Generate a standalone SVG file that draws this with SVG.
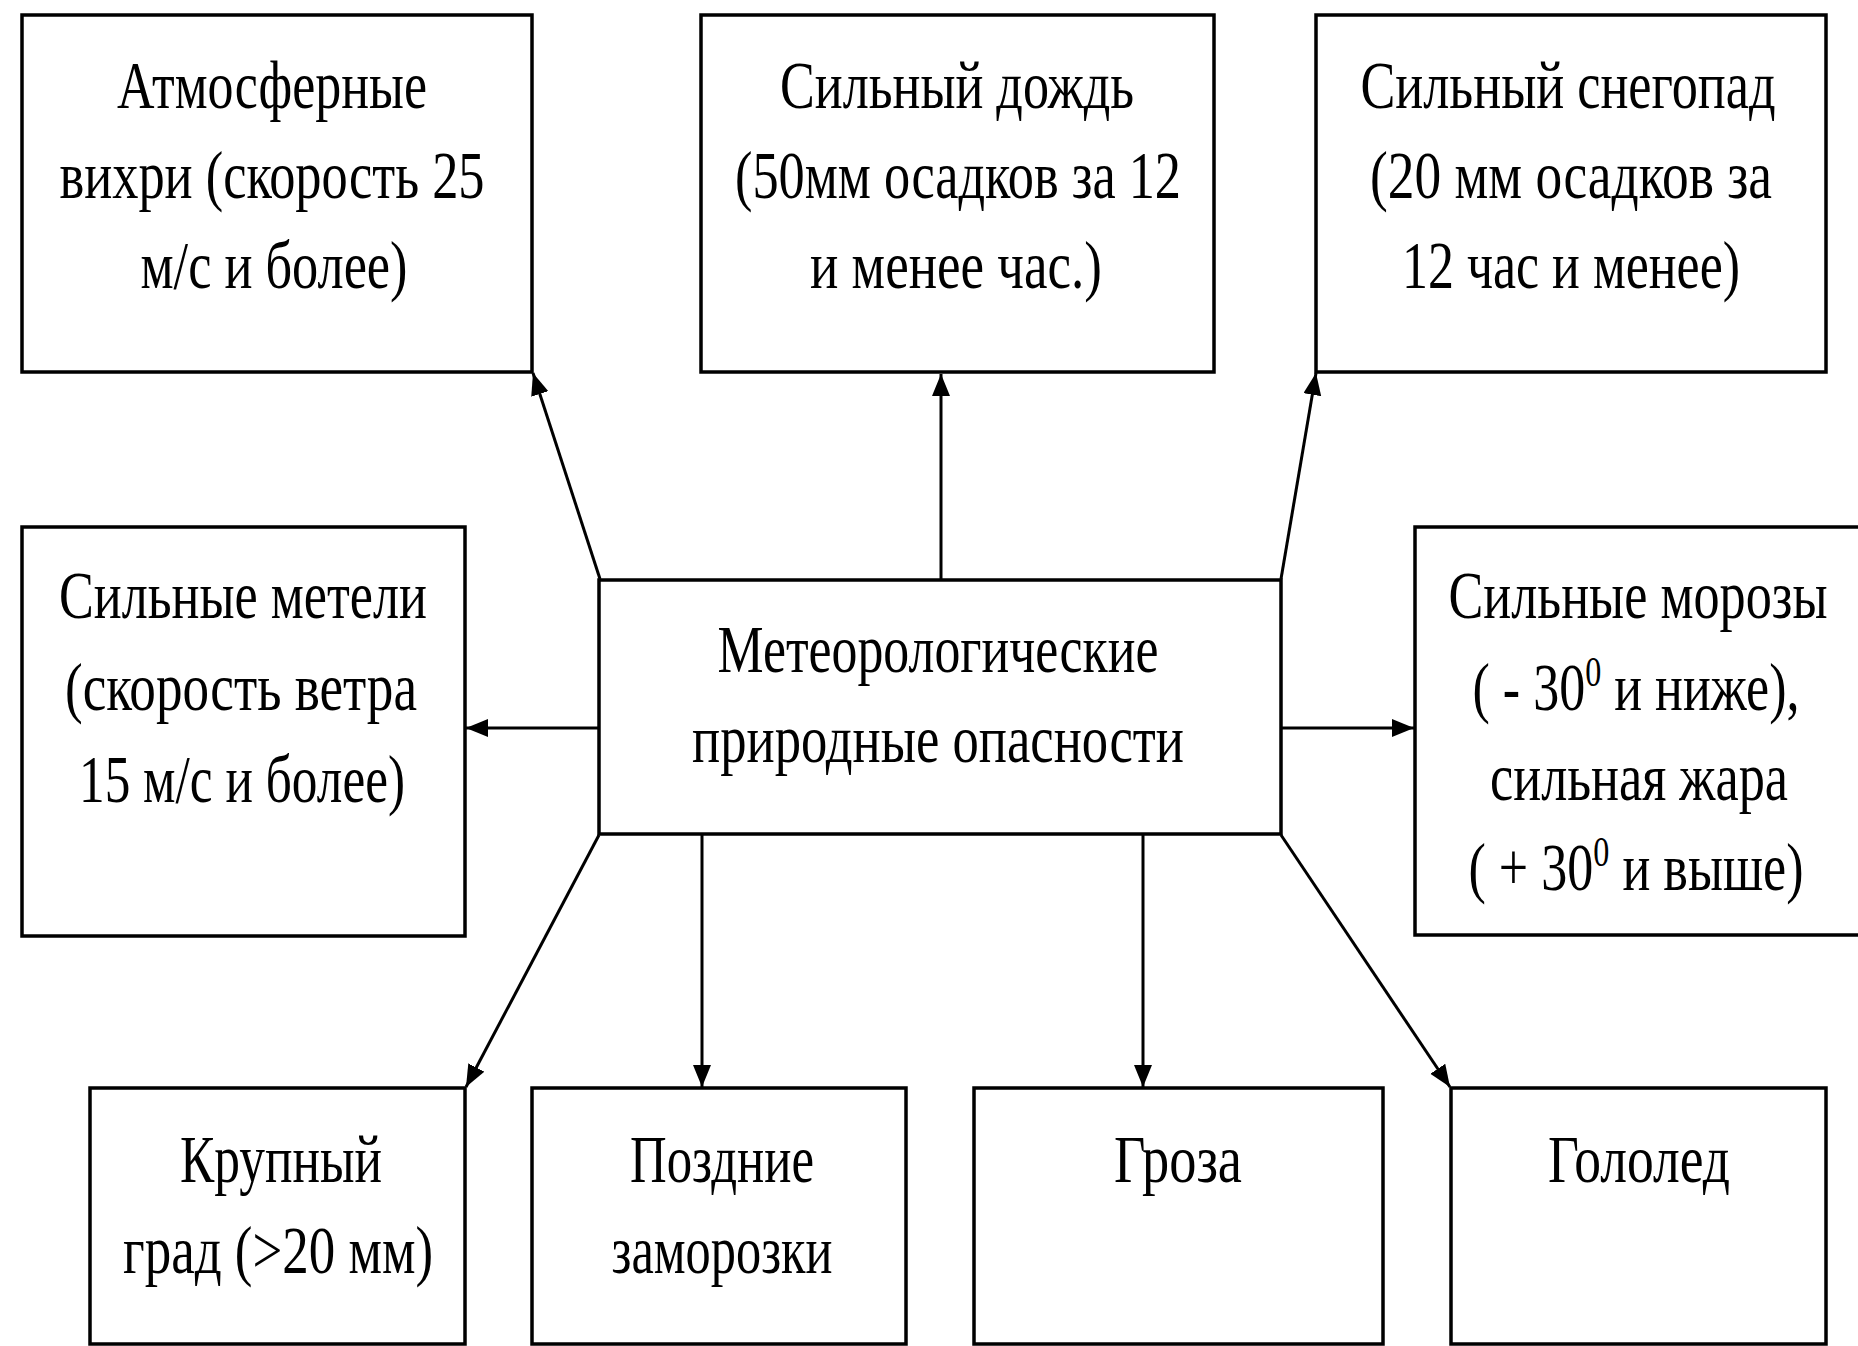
<svg xmlns="http://www.w3.org/2000/svg" width="1858" height="1346" viewBox="0 0 1858 1346">
<style>
.box{fill:#fff;stroke:#000;stroke-width:3.5}
.t{font-family:"Liberation Serif","Times New Roman",serif;font-size:68px;fill:#000;text-anchor:middle}
.sup{font-size:42px}
.c{stroke:#000;stroke-width:3;fill:none;marker-end:url(#ah)}
</style>
<defs>
<marker id="ah" markerUnits="userSpaceOnUse" markerWidth="24" markerHeight="20" refX="22" refY="9" orient="auto">
<path d="M0,0 L22,9 L0,18 z" fill="#000"/>
</marker>
</defs>
<rect width="1858" height="1346" fill="#fff"/>
<g id="connectors">
<line class="c" x1="600" y1="579" x2="533" y2="373"/>
<line class="c" x1="941" y1="580" x2="941" y2="374"/>
<line class="c" x1="1281" y1="579" x2="1316" y2="373"/>
<line class="c" x1="599" y1="728" x2="466" y2="728"/>
<line class="c" x1="1281" y1="728" x2="1414" y2="728"/>
<line class="c" x1="599" y1="835" x2="466" y2="1087"/>
<line class="c" x1="702" y1="835" x2="702" y2="1087"/>
<line class="c" x1="1143" y1="835" x2="1143" y2="1087"/>
<line class="c" x1="1281" y1="835" x2="1450" y2="1087"/>
</g>
<g id="n1">
<rect class="box" x="22" y="15" width="510" height="357"/>
<text class="t" x="272" y="108" textLength="310" lengthAdjust="spacingAndGlyphs">Атмосферные</text>
<text class="t" x="272" y="198" textLength="425" lengthAdjust="spacingAndGlyphs">вихри (скорость 25</text>
<text class="t" x="274" y="288" textLength="267" lengthAdjust="spacingAndGlyphs">м/с и более)</text>
</g>
<g id="n2">
<rect class="box" x="701" y="15" width="513" height="357"/>
<text class="t" x="957" y="108" textLength="354" lengthAdjust="spacingAndGlyphs">Сильный дождь</text>
<text class="t" x="958" y="198" textLength="446" lengthAdjust="spacingAndGlyphs">(50мм осадков за 12</text>
<text class="t" x="956" y="288" textLength="292" lengthAdjust="spacingAndGlyphs">и менее час.)</text>
</g>
<g id="n3">
<rect class="box" x="1316" y="15" width="510" height="357"/>
<text class="t" x="1568" y="108" textLength="415" lengthAdjust="spacingAndGlyphs">Сильный снегопад</text>
<text class="t" x="1571" y="198" textLength="402" lengthAdjust="spacingAndGlyphs">(20 мм осадков за</text>
<text class="t" x="1571" y="288" textLength="338" lengthAdjust="spacingAndGlyphs">12 час и менее)</text>
</g>
<g id="n4">
<rect class="box" x="22" y="527" width="443" height="409"/>
<text class="t" x="243" y="618" textLength="368" lengthAdjust="spacingAndGlyphs">Сильные метели</text>
<text class="t" x="241" y="710" textLength="352" lengthAdjust="spacingAndGlyphs">(скорость ветра</text>
<text class="t" x="242" y="802" textLength="326" lengthAdjust="spacingAndGlyphs">15 м/с и более)</text>
</g>
<g id="center">
<rect class="box" x="599" y="580" width="682" height="254"/>
<text class="t" x="938" y="672" textLength="441" lengthAdjust="spacingAndGlyphs">Метеорологические</text>
<text class="t" x="938" y="762" textLength="492" lengthAdjust="spacingAndGlyphs">природные опасности</text>
</g>
<g id="n6">
<rect class="box" x="1415" y="527" width="450" height="408"/>
<text class="t" x="1638" y="618" textLength="379" lengthAdjust="spacingAndGlyphs">Сильные морозы</text>
<text class="t" x="1636" y="710" textLength="327" lengthAdjust="spacingAndGlyphs">( - 30<tspan class="sup" dy="-24">0</tspan><tspan dy="24"> и ниже),</tspan></text>
<text class="t" x="1639" y="800" textLength="298" lengthAdjust="spacingAndGlyphs">сильная жара</text>
<text class="t" x="1636" y="890" textLength="335" lengthAdjust="spacingAndGlyphs">( + 30<tspan class="sup" dy="-24">0</tspan><tspan dy="24"> и выше)</tspan></text>
</g>
<g id="n7">
<rect class="box" x="90" y="1088" width="375" height="256"/>
<text class="t" x="281" y="1182" textLength="202" lengthAdjust="spacingAndGlyphs">Крупный</text>
<text class="t" x="278" y="1273" textLength="310" lengthAdjust="spacingAndGlyphs">град (&gt;20 мм)</text>
</g>
<g id="n8">
<rect class="box" x="532" y="1088" width="374" height="256"/>
<text class="t" x="722" y="1182" textLength="184" lengthAdjust="spacingAndGlyphs">Поздние</text>
<text class="t" x="722" y="1273" textLength="221" lengthAdjust="spacingAndGlyphs">заморозки</text>
</g>
<g id="n9">
<rect class="box" x="974" y="1088" width="409" height="256"/>
<text class="t" x="1178" y="1182" textLength="128" lengthAdjust="spacingAndGlyphs">Гроза</text>
</g>
<g id="n10">
<rect class="box" x="1451" y="1088" width="375" height="256"/>
<text class="t" x="1639" y="1182" textLength="182" lengthAdjust="spacingAndGlyphs">Гололед</text>
</g>
</svg>
